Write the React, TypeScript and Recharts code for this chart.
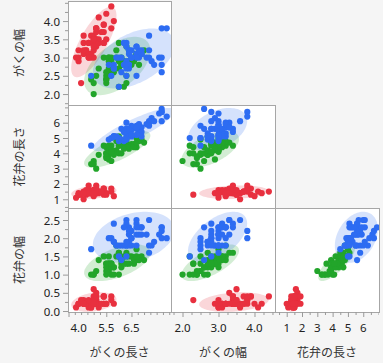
import React from 'react';
import { Scatter, ScatterChart, XAxis, YAxis } from 'recharts';

const varNames = ['がくの長さ', 'がくの幅', '花弁の長さ', '花弁の幅'];
const speciesNames = ['Setosa', 'Versicolor', 'Virginica'];
const speciesSizes = [50, 50, 50];
const speciesColors = ['#e8303f', '#22a52a', '#2d6cf2'];

const sepalLength = [
  5.1, 4.9, 4.7, 4.6, 5.0, 5.4, 4.6, 5.0, 4.4, 4.9, 5.4, 4.8, 4.8, 4.3, 5.8, 5.7, 5.4, 5.1, 5.7, 5.1, 5.4, 5.1, 4.6, 5.1, 4.8,
  5.0, 5.0, 5.2, 5.2, 4.7, 4.8, 5.4, 5.2, 5.5, 4.9, 5.0, 5.5, 4.9, 4.4, 5.1, 5.0, 4.5, 4.4, 5.0, 5.1, 4.8, 5.1, 4.6, 5.3, 5.0,
  7.0, 6.4, 6.9, 5.5, 6.5, 5.7, 6.3, 4.9, 6.6, 5.2, 5.0, 5.9, 6.0, 6.1, 5.6, 6.7, 5.6, 5.8, 6.2, 5.6, 5.9, 6.1, 6.3, 6.1, 6.4,
  6.6, 6.8, 6.7, 6.0, 5.7, 5.5, 5.5, 5.8, 6.0, 5.4, 6.0, 6.7, 6.3, 5.6, 5.5, 5.5, 6.1, 5.8, 5.0, 5.6, 5.7, 5.7, 6.2, 5.1, 5.7,
  6.3, 5.8, 7.1, 6.3, 6.5, 7.6, 4.9, 7.3, 6.7, 7.2, 6.5, 6.4, 6.8, 5.7, 5.8, 6.4, 6.5, 7.7, 7.7, 6.0, 6.9, 5.6, 7.7, 6.3, 6.7,
  7.2, 6.2, 6.1, 6.4, 7.2, 7.4, 7.9, 6.4, 6.3, 6.1, 7.7, 6.3, 6.4, 6.0, 6.9, 6.7, 6.9, 5.8, 6.8, 6.7, 6.7, 6.3, 6.5, 6.2, 5.9,
];
const sepalWidth = [
  3.5, 3.0, 3.2, 3.1, 3.6, 3.9, 3.4, 3.4, 2.9, 3.1, 3.7, 3.4, 3.0, 3.0, 4.0, 4.4, 3.9, 3.5, 3.8, 3.8, 3.4, 3.7, 3.6, 3.3, 3.4,
  3.0, 3.4, 3.5, 3.4, 3.2, 3.1, 3.4, 4.1, 4.2, 3.1, 3.2, 3.5, 3.6, 3.0, 3.4, 3.5, 2.3, 3.2, 3.5, 3.8, 3.0, 3.8, 3.2, 3.7, 3.3,
  3.2, 3.2, 3.1, 2.3, 2.8, 2.8, 3.3, 2.4, 2.9, 2.7, 2.0, 3.0, 2.2, 2.9, 2.9, 3.1, 3.0, 2.7, 2.2, 2.5, 3.2, 2.8, 2.5, 2.8, 2.9,
  3.0, 2.8, 3.0, 2.9, 2.6, 2.4, 2.4, 2.7, 2.7, 3.0, 3.4, 3.1, 2.3, 3.0, 2.5, 2.6, 3.0, 2.6, 2.3, 2.7, 3.0, 2.9, 2.9, 2.5, 2.8,
  3.3, 2.7, 3.0, 2.9, 3.0, 3.0, 2.5, 2.9, 2.5, 3.6, 3.2, 2.7, 3.0, 2.5, 2.8, 3.2, 3.0, 3.8, 2.6, 2.2, 3.2, 2.8, 2.8, 2.7, 3.3,
  3.2, 2.8, 3.0, 2.8, 3.0, 2.8, 3.8, 2.8, 2.8, 2.6, 3.0, 3.4, 3.1, 3.0, 3.1, 3.1, 3.1, 2.7, 3.2, 3.3, 3.0, 2.5, 3.0, 3.4, 3.0,
];
const petalLength = [
  1.4, 1.4, 1.3, 1.5, 1.4, 1.7, 1.4, 1.5, 1.4, 1.5, 1.5, 1.6, 1.4, 1.1, 1.2, 1.5, 1.3, 1.4, 1.7, 1.5, 1.7, 1.5, 1.0, 1.7, 1.9,
  1.6, 1.6, 1.5, 1.4, 1.6, 1.6, 1.5, 1.5, 1.4, 1.5, 1.2, 1.3, 1.4, 1.3, 1.5, 1.3, 1.3, 1.3, 1.6, 1.9, 1.4, 1.6, 1.4, 1.5, 1.4,
  4.7, 4.5, 4.9, 4.0, 4.6, 4.5, 4.7, 3.3, 4.6, 3.9, 3.5, 4.2, 4.0, 4.7, 3.6, 4.4, 4.5, 4.1, 4.5, 3.9, 4.8, 4.0, 4.9, 4.7, 4.3,
  4.4, 4.8, 5.0, 4.5, 3.5, 3.8, 3.7, 3.9, 5.1, 4.5, 4.5, 4.7, 4.4, 4.1, 4.0, 4.4, 4.6, 4.0, 3.3, 4.2, 4.2, 4.2, 4.3, 3.0, 4.1,
  6.0, 5.1, 5.9, 5.6, 5.8, 6.6, 4.5, 6.3, 5.8, 6.1, 5.1, 5.3, 5.5, 5.0, 5.1, 5.3, 5.5, 6.7, 6.9, 5.0, 5.7, 4.9, 6.7, 4.9, 5.7,
  6.0, 4.8, 4.9, 5.6, 5.8, 6.1, 6.4, 5.6, 5.1, 5.6, 6.1, 5.6, 5.5, 4.8, 5.4, 5.6, 5.1, 5.1, 5.9, 5.7, 5.2, 5.0, 5.2, 5.4, 5.1,
];
const petalWidth = [
  0.2, 0.2, 0.2, 0.2, 0.2, 0.4, 0.3, 0.2, 0.2, 0.1, 0.2, 0.2, 0.1, 0.1, 0.2, 0.4, 0.4, 0.3, 0.3, 0.3, 0.2, 0.4, 0.2, 0.5, 0.2,
  0.2, 0.4, 0.2, 0.2, 0.2, 0.2, 0.4, 0.1, 0.2, 0.2, 0.2, 0.2, 0.1, 0.2, 0.2, 0.3, 0.3, 0.2, 0.6, 0.4, 0.3, 0.2, 0.2, 0.2, 0.2,
  1.4, 1.5, 1.5, 1.3, 1.5, 1.3, 1.6, 1.0, 1.3, 1.4, 1.0, 1.5, 1.0, 1.4, 1.3, 1.4, 1.5, 1.0, 1.5, 1.1, 1.8, 1.3, 1.5, 1.2, 1.3,
  1.4, 1.4, 1.7, 1.5, 1.0, 1.1, 1.0, 1.2, 1.6, 1.5, 1.6, 1.5, 1.3, 1.3, 1.3, 1.2, 1.4, 1.2, 1.0, 1.3, 1.2, 1.3, 1.3, 1.1, 1.3,
  2.5, 1.9, 2.1, 1.8, 2.2, 2.1, 1.7, 1.8, 1.8, 2.5, 2.0, 1.9, 2.1, 2.0, 2.4, 2.3, 1.8, 2.2, 2.3, 1.5, 2.3, 2.0, 2.0, 1.8, 2.1,
  1.8, 1.8, 1.8, 2.1, 1.6, 1.9, 2.0, 2.2, 1.5, 1.4, 2.3, 2.4, 1.8, 1.8, 2.1, 2.4, 2.3, 1.9, 2.3, 2.5, 2.3, 1.9, 2.0, 2.3, 1.8,
];

// tick values and the ones that carry a label
const sepalLengthTicks = [4, 4.25, 4.5, 4.75, 5, 5.25, 5.5, 5.75, 6, 6.25, 6.5, 6.75, 7, 7.25, 7.5, 7.75, 8];
const sepalLengthLabels = [4, 5.5, 6.5];
const sepalWidthTicks = [1.75, 2, 2.25, 2.5, 2.75, 3, 3.25, 3.5, 3.75, 4, 4.25, 4.5];
const sepalWidthRowLabels = [2, 2.5, 3, 3.5, 4];
const sepalWidthColLabels = [2, 3, 4];
const petalLengthTicks = [0.5, 1, 1.5, 2, 2.5, 3, 3.5, 4, 4.5, 5, 5.5, 6, 6.5, 7];
const petalLengthLabels = [1, 2, 3, 4, 5, 6];
const petalWidthTicks = [0, 0.25, 0.5, 0.75, 1, 1.25, 1.5, 1.75, 2, 2.25, 2.5, 2.75];
const petalWidthLabels = [0, 0.5, 1, 1.5, 2, 2.5];

const variables = [sepalLength, sepalWidth, petalLength, petalWidth];

// layout
const colX = [68, 171, 275];
const colW = [103, 104, 104];
const rowY = [1, 105, 208];
const rowH = [104, 103, 104];
const AXIS_W = 60;
const AXIS_H = 32;
const ELLIPSE_K = 2.55;

const colAxes = [
  { domain: [3.98, 8.07], ticks: sepalLengthTicks, labels: sepalLengthLabels, digits: 1 },
  { domain: [1.68, 4.57], ticks: sepalWidthTicks, labels: sepalWidthColLabels, digits: 1 },
  { domain: [0.235, 7.03], ticks: petalLengthTicks, labels: petalLengthLabels, digits: 0 },
];
const rowAxes = [
  { domain: [1.7, 4.55], ticks: sepalWidthTicks, labels: sepalWidthRowLabels, digits: 1 },
  { domain: [0.43, 7.155], ticks: petalLengthTicks, labels: petalLengthLabels, digits: 0 },
  { domain: [-0.027, 2.83], ticks: petalWidthTicks, labels: petalWidthLabels, digits: 1 },
];

const tickFont = { fontFamily: 'Noto Sans, sans-serif', fontSize: 11.5, fill: '#222' };
const titleFont = { fontFamily: 'Noto Sans CJK JP, sans-serif', fontSize: 12, fill: '#333' };

function speciesPoints(xv: number, yv: number, s: number) {
  const start = speciesSizes.slice(0, s).reduce((a, b) => a + b, 0);
  const out: { x: number; y: number }[] = [];
  for (let i = start; i < start + speciesSizes[s]; i++) {
    out.push({ x: variables[xv][i], y: variables[yv][i] });
  }
  return out;
}

function densityEllipse(pts: { x: number; y: number }[]) {
  const n = pts.length;
  const mx = pts.reduce((a, p) => a + p.x, 0) / n;
  const my = pts.reduce((a, p) => a + p.y, 0) / n;
  let sxx = 0, syy = 0, sxy = 0;
  pts.forEach((p) => {
    sxx += (p.x - mx) ** 2;
    syy += (p.y - my) ** 2;
    sxy += (p.x - mx) * (p.y - my);
  });
  const sx = Math.sqrt(sxx / (n - 1));
  const sy = Math.sqrt(syy / (n - 1));
  const r = sxy / (n - 1) / (sx * sy);
  const out: { x: number; y: number }[] = [];
  for (let i = 0; i < 90; i++) {
    const t = (2 * Math.PI * i) / 90;
    out.push({
      x: mx + ELLIPSE_K * sx * Math.cos(t),
      y: my + ELLIPSE_K * sy * (r * Math.cos(t) + Math.sqrt(1 - r * r) * Math.sin(t)),
    });
  }
  return out;
}

const isLabel = (labels: number[], v: number) => labels.some((l) => Math.abs(l - v) < 1e-9);

const makeYTick = (labels: number[], digits: number) => (props: any) => {
  const { x, y, payload } = props;
  const major = isLabel(labels, payload.value);
  const len = major ? 5 : 3;
  return (
    <g>
      <line x1={x - len} x2={x} y1={y + 0.5} y2={y + 0.5} stroke="#9a9a9a" />
      {major && (
        <text x={x - len - 3} y={y} textAnchor="end" dominantBaseline="central" {...tickFont}>
          {payload.value.toFixed(digits)}
        </text>
      )}
    </g>
  );
};

const makeXTick = (labels: number[], digits: number, min: number) => (props: any) => {
  const { x, y, payload } = props;
  const major = isLabel(labels, payload.value);
  const len = major ? 5 : 3;
  const atEdge = Math.abs(payload.value - min) < 0.05;
  return (
    <g>
      <line x1={x + 0.5} x2={x + 0.5} y1={y} y2={y + len} stroke="#9a9a9a" />
      {major && (
        <text x={atEdge ? x + 2 : x} y={y + len + 15} textAnchor={atEdge ? 'start' : 'middle'} {...tickFont}>
          {payload.value.toFixed(digits)}
        </text>
      )}
    </g>
  );
};

const ellipseShape = (color: string) => (p: any) => (
  <polygon
    points={(p.points || []).map((q: any) => `${q.x},${q.y}`).join(' ')}
    fill={color}
    fillOpacity={0.2}
    stroke="none"
  />
);

function Panel({ r, c }: { r: number; c: number }) {
  const showY = c === 0;
  const showX = r === 2;
  const xa = colAxes[c];
  const ya = rowAxes[r];
  const left = colX[c] - (showY ? AXIS_W : 0);
  const w = colW[c] + (showY ? AXIS_W : 0);
  const h = rowH[r] + (showX ? AXIS_H : 0);
  return (
    <>
      <div
        style={{
          position: 'absolute',
          left: colX[c],
          top: rowY[r],
          width: colW[c] + 1,
          height: rowH[r] + 1,
          boxSizing: 'border-box',
          border: '1px solid #a6a6a6',
          background: '#fff',
        }}
      />
      <div style={{ position: 'absolute', left, top: rowY[r] }}>
        <ScatterChart width={w} height={h} margin={{ top: 0, right: 0, bottom: 0, left: 0 }}>
          <XAxis
            type="number"
            dataKey="x"
            domain={xa.domain}
            allowDataOverflow
            ticks={xa.ticks}
            interval={0}
            hide={!showX}
            height={AXIS_H}
            axisLine={false}
            tickLine={false}
            tickSize={0}
            tickMargin={0}
            tick={makeXTick(xa.labels, xa.digits, xa.domain[0])}
          />
          <YAxis
            type="number"
            dataKey="y"
            domain={ya.domain}
            allowDataOverflow
            ticks={ya.ticks}
            interval={0}
            hide={!showY}
            width={AXIS_W}
            axisLine={false}
            tickLine={false}
            tickSize={0}
            tickMargin={0}
            tick={makeYTick(ya.labels, ya.digits)}
          />
          {speciesNames.map((name, s) => (
            <Scatter
              key={'e' + name}
              name={name + ' ellipse'}
              data={densityEllipse(speciesPoints(c, r + 1, s))}
              isAnimationActive={false}
              shape={() => <g />}
              line={ellipseShape(speciesColors[s])}
              lineType="joint"
            />
          ))}
          {speciesNames.map((name, s) => (
            <Scatter
              key={name}
              name={name}
              data={speciesPoints(c, r + 1, s)}
              isAnimationActive={false}
              shape={(p: any) => <circle cx={p.cx} cy={p.cy} r={3.1} fill={speciesColors[s]} />}
            />
          ))}
        </ScatterChart>
      </div>
    </>
  );
}

export default function App() {
  const panels: [number, number][] = [];
  for (let r = 0; r < 3; r++) for (let c = 0; c <= r; c++) panels.push([r, c]);
  return (
    <div style={{ position: 'absolute', left: 0, top: 0, width: 383, height: 363, background: '#f5f5f5', overflow: 'hidden' }}>
      {panels.map(([r, c]) => (
        <Panel key={`${r}-${c}`} r={r} c={c} />
      ))}
      <svg width={383} height={363} style={{ position: 'absolute', left: 0, top: 0, pointerEvents: 'none' }}>
        {rowY.map((y, r) => {
          const cy = y + rowH[r] / 2;
          return (
            <text key={'y' + r} x={18} y={cy} transform={`rotate(-90 18 ${cy})`} textAnchor="middle" dominantBaseline="central" {...titleFont}>
              {varNames[r + 1]}
            </text>
          );
        })}
        {colX.map((x, c) => (
          <text key={'x' + c} x={x + colW[c] / 2} y={351} textAnchor="middle" dominantBaseline="central" {...titleFont}>
            {varNames[c]}
          </text>
        ))}
      </svg>
    </div>
  );
}
